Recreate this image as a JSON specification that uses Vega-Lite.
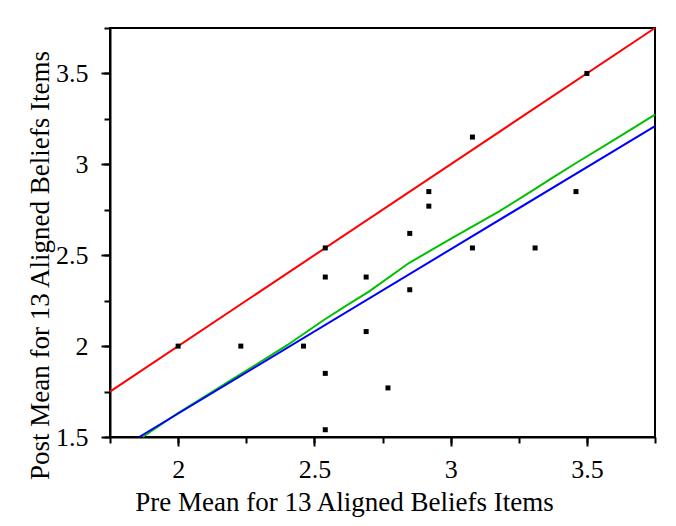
{
  "$schema": "https://vega.github.io/schema/vega-lite/v6.json",
  "width": 545,
  "height": 409,
  "autosize": {"type": "none"},
  "padding": {"left": 110, "top": 28, "right": 21, "bottom": 89},
  "background": "white",
  "datasets": {
    "points": [
      {"pre": 2.0, "post": 2.0},
      {"pre": 2.23, "post": 2.0},
      {"pre": 2.46, "post": 2.0},
      {"pre": 2.54, "post": 2.54},
      {"pre": 2.54, "post": 2.38},
      {"pre": 2.54, "post": 1.85},
      {"pre": 2.54, "post": 1.54},
      {"pre": 2.69, "post": 2.38},
      {"pre": 2.69, "post": 2.08},
      {"pre": 2.77, "post": 1.77},
      {"pre": 2.85, "post": 2.62},
      {"pre": 2.85, "post": 2.31},
      {"pre": 2.92, "post": 2.85},
      {"pre": 2.92, "post": 2.77},
      {"pre": 3.08, "post": 3.15},
      {"pre": 3.08, "post": 2.54},
      {"pre": 3.31, "post": 2.54},
      {"pre": 3.46, "post": 2.85},
      {"pre": 3.5, "post": 3.5}
    ],
    "fits": [
      {"series": "identity", "pre": 1.75, "post": 1.75},
      {"series": "identity", "pre": 3.75, "post": 3.75},
      {"series": "linear", "pre": 1.857, "post": 1.5},
      {"series": "linear", "pre": 3.75, "post": 3.21},
      {"series": "smooth", "pre": 1.87, "post": 1.5},
      {"series": "smooth", "pre": 2.0, "post": 1.632},
      {"series": "smooth", "pre": 2.2, "post": 1.818},
      {"series": "smooth", "pre": 2.4, "post": 2.005},
      {"series": "smooth", "pre": 2.536, "post": 2.145},
      {"series": "smooth", "pre": 2.62, "post": 2.225},
      {"series": "smooth", "pre": 2.7, "post": 2.3},
      {"series": "smooth", "pre": 2.847, "post": 2.457},
      {"series": "smooth", "pre": 3.0, "post": 2.59},
      {"series": "smooth", "pre": 3.178, "post": 2.741},
      {"series": "smooth", "pre": 3.3, "post": 2.855},
      {"series": "smooth", "pre": 3.373, "post": 2.925},
      {"series": "smooth", "pre": 3.471, "post": 3.017},
      {"series": "smooth", "pre": 3.6, "post": 3.135},
      {"series": "smooth", "pre": 3.75, "post": 3.274}
    ]
  },
  "layer": [
    {
      "data": {"name": "fits"},
      "transform": [{"filter": "datum.series == 'identity'"}],
      "mark": {"type": "line", "color": "#ff0000", "strokeWidth": 2},
      "encoding": {
        "x": {
          "field": "pre",
          "type": "quantitative",
          "scale": {"domain": [1.75, 3.75], "nice": false, "zero": false},
          "axis": {
            "orient": "bottom",
            "values": [2, 2.5, 3, 3.5],
            "format": "~g",
            "ticks": false,
            "labelPadding": 19,
            "labelOverlap": false,
            "labelFlush": false,
            "title": "Pre Mean for 13 Aligned Beliefs Items",
            "titleX": 234,
            "titleY": 73,
            "titleBaseline": "alphabetic",
            "titleAlign": "center"
          }
        },
        "y": {
          "field": "post",
          "type": "quantitative",
          "scale": {"domain": [1.5, 3.75], "nice": false, "zero": false},
          "axis": {
            "orient": "left",
            "values": [1.5, 2, 2.5, 3, 3.5],
            "format": "~g",
            "ticks": false,
            "labelPadding": 22,
            "labelOverlap": false,
            "labelFlush": false,
            "title": "Post Mean for 13 Aligned Beliefs Items",
            "titleAngle": 270,
            "titleX": -62,
            "titleY": 237,
            "titleBaseline": "alphabetic",
            "titleAlign": "center"
          }
        }
      }
    },
    {
      "data": {"name": "fits"},
      "transform": [{"filter": "datum.series == 'smooth'"}],
      "mark": {"type": "line", "color": "#00c000", "strokeWidth": 2},
      "encoding": {
        "x": {"field": "pre", "type": "quantitative", "axis": null},
        "y": {"field": "post", "type": "quantitative", "axis": null}
      }
    },
    {
      "data": {"name": "fits"},
      "transform": [{"filter": "datum.series == 'linear'"}],
      "mark": {"type": "line", "color": "#0000ff", "strokeWidth": 2},
      "encoding": {
        "x": {
          "field": "pre",
          "type": "quantitative",
          "axis": {
            "orient": "bottom",
            "values": [2, 2.5, 3, 3.5],
            "labels": false,
            "domain": false,
            "tickSize": 9,
            "title": null
          }
        },
        "y": {
          "field": "post",
          "type": "quantitative",
          "axis": {
            "orient": "left",
            "values": [1.5, 2, 2.5, 3, 3.5],
            "labels": false,
            "domain": false,
            "tickSize": 9,
            "title": null
          }
        }
      }
    },
    {
      "data": {"name": "points"},
      "mark": {"type": "square", "filled": true, "color": "black", "size": 25, "opacity": 1},
      "encoding": {
        "x": {
          "field": "pre",
          "type": "quantitative",
          "axis": {
            "orient": "bottom",
            "values": [1.75, 2, 2.25, 2.5, 2.75, 3, 3.25, 3.5, 3.75],
            "labels": false,
            "domain": false,
            "tickSize": 6,
            "title": null
          }
        },
        "y": {
          "field": "post",
          "type": "quantitative",
          "axis": {
            "orient": "left",
            "values": [1.5, 1.75, 2, 2.25, 2.5, 2.75, 3, 3.25, 3.5, 3.75],
            "labels": false,
            "domain": false,
            "tickSize": 6,
            "title": null
          }
        }
      }
    }
  ],
  "resolve": {"axis": {"x": "independent", "y": "independent"}},
  "config": {
    "view": {"stroke": "black", "strokeWidth": 2},
    "axis": {
      "grid": false,
      "domainColor": "black",
      "domainWidth": 2,
      "tickColor": "black",
      "tickWidth": 2,
      "labelFont": "Liberation Serif",
      "labelFontSize": 26,
      "labelColor": "black",
      "titleFont": "Liberation Serif",
      "titleFontSize": 27,
      "titleFontWeight": "normal",
      "titleColor": "black"
    }
  }
}
